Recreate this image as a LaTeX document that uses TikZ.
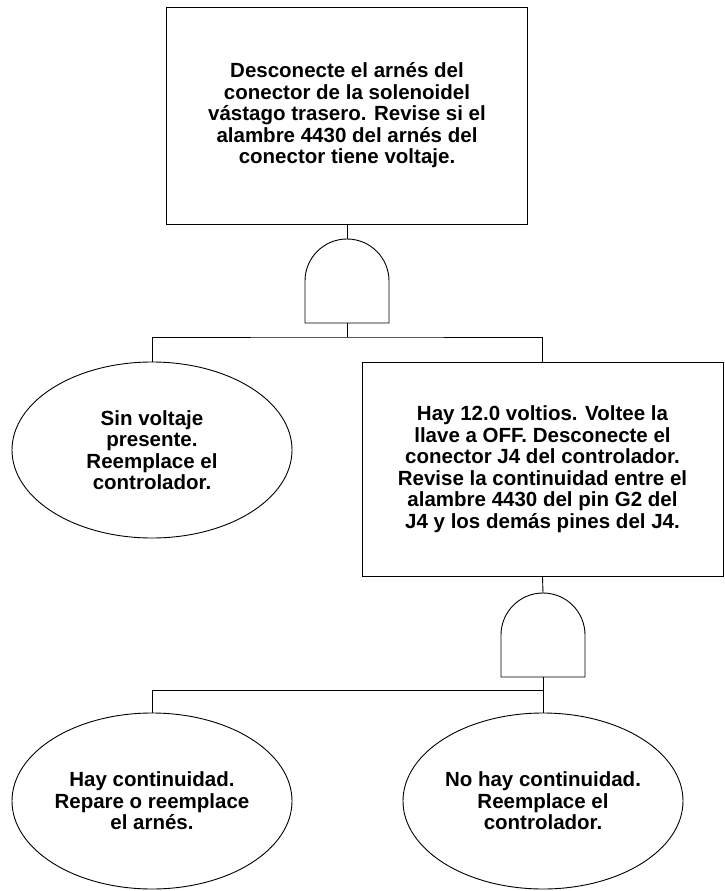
\documentclass[tikz,border=0pt]{standalone}
\usepackage{fontspec}
\setmainfont{Liberation Sans}
\usetikzlibrary{shapes.geometric, positioning, calc}

\tikzset{
  stepbox/.style={draw, line width=0.9pt, minimum width=361pt, align=center, inner sep=0pt,
    font=\bfseries\fontsize{20.5}{21.5}\selectfont},
  outcome/.style={draw, ellipse, line width=0.9pt, minimum width=280pt, minimum height=176pt,
    inner sep=0pt, align=center, font=\bfseries\fontsize{20.5}{21.5}\selectfont},
  link/.style={line width=0.9pt},
  andgate/.pic={
    \draw[link] (-42,-84) -- (-42,-42) arc[start angle=180, end angle=0, radius=42] -- (42,-84) -- cycle;
    \coordinate (-in) at (0,0);
    \coordinate (-out) at (0,-84);
  }
}

\begin{document}
\begin{tikzpicture}[x=1pt, y=1pt]
    \useasboundingbox (0,0) rectangle (725,-891);

    % Checks
    \node[stepbox, minimum height=217pt] (check) at (347,-115.5) {Desconecte el arnés del\\conector de la solenoidel\\vástago trasero. Revise si el\\alambre 4430 del arnés del\\conector tiene voltaje.};
    \node[stepbox, minimum height=214pt] (retest) at (542.5,-469) {Hay 12.0 voltios. Voltee la\\llave a OFF. Desconecte el\\conector J4 del controlador.\\Revise la continuidad entre el\\alambre 4430 del pin G2 del\\J4 y los demás pines del J4.};

    % Outcomes
    \node[outcome] (novolt) at (152,-450) {Sin voltaje\\presente.\\Reemplace el\\controlador.};
    \node[outcome] (fixharness) at (152,-801) {Hay continuidad.\\Repare o reemplace\\el arnés.};
    \node[outcome] (replace) at (543,-801) {No hay continuidad.\\Reemplace el\\controlador.};

    % Gates
    \pic (g1) at (347,-239) {andgate};
    \pic (g2) at (543,-593) {andgate};
    \coordinate (split1) at (347,-337);
    \coordinate (split2) at (543,-690);

    \draw[link] (check.south) -- (g1-in);
    \draw[link] (g1-out) -- (split1);
    \draw[link] (novolt.north) |- (split1) -| (retest.north);
    \draw[link] (retest.south) -- (g2-in);
    \draw[link] (g2-out) -- (split2);
    \draw[link] (fixharness.north) |- (split2) -- (replace.north);
\end{tikzpicture}
\end{document}
